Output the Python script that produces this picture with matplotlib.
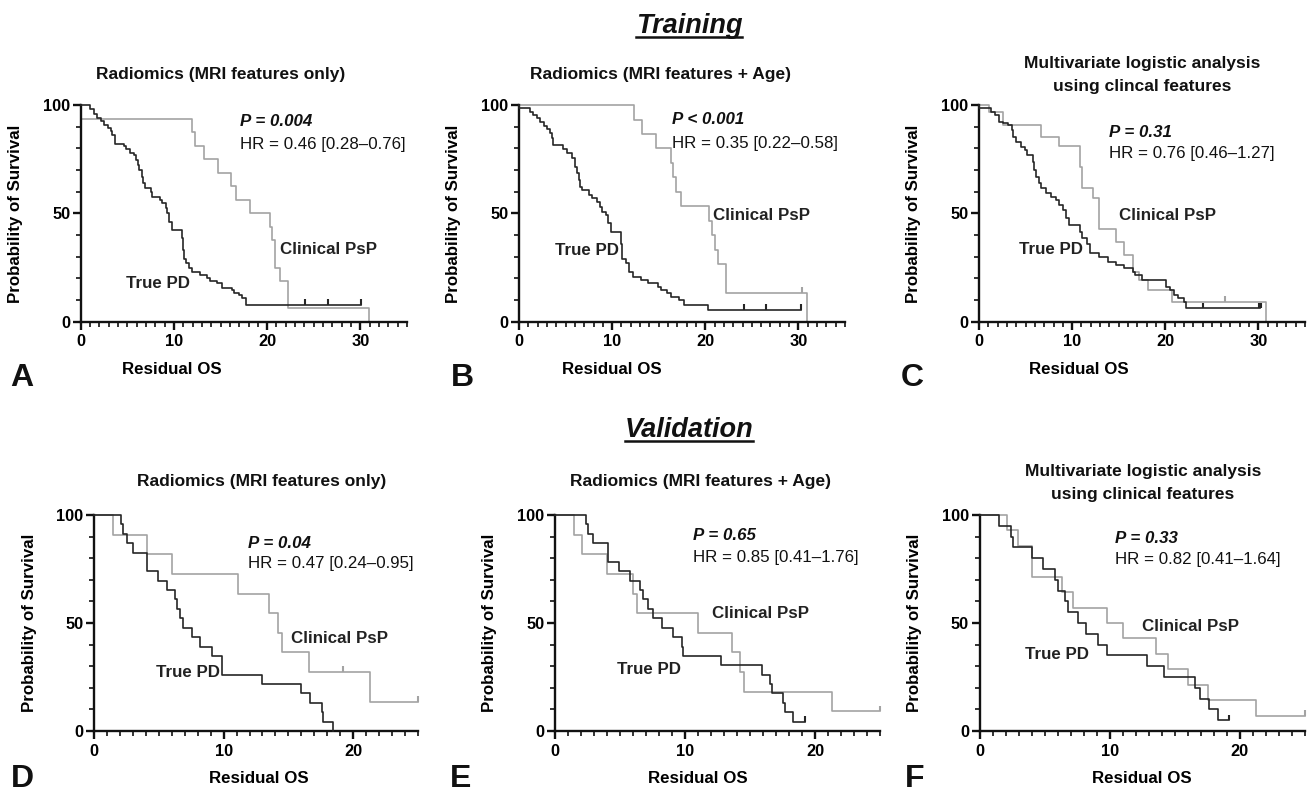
import matplotlib
matplotlib.use("Agg")
import matplotlib.pyplot as plt
from matplotlib.ticker import MultipleLocator
from matplotlib.lines import Line2D

plt.rcParams['font.family'] = ['Liberation Sans', 'DejaVu Sans']

# ---------------- DATA (Kaplan-Meier steps) ----------------
# Panel A  (Training, Radiomics MRI only)
A_pd_t = [0, 1.0, 1.4, 1.7, 2.2, 2.5, 2.9, 3.2, 3.4, 3.7, 4.6, 4.9, 5.3, 5.7, 5.9, 6.1, 6.3, 6.6, 6.7, 6.9,
          7.5, 7.7, 8.5, 8.7, 9.1, 9.3, 9.5, 9.8, 10.9, 11.0, 11.1, 11.3, 11.6, 11.9, 12.8, 13.5, 13.9, 14.6,
          15.2, 16.2, 16.4, 17.0, 17.3, 17.7, 30.1]
A_pd_s = [100, 98, 96, 94, 92.5, 91, 89.5, 88, 86, 82, 81, 79.5, 78, 77, 74.5, 72.5, 70, 67, 64, 61.5,
          60, 57.7, 56, 54.6, 52.3, 50, 46, 42.3, 38.5, 33, 29, 27, 24.6, 23, 21.5, 20, 19, 17.7,
          15.4, 14.6, 13.4, 12.3, 10.8, 7.7, 7.7]
A_psp_t = [0, 0, 11.9, 12.3, 13.2, 14.7, 16.1, 16.7, 18.2, 20.3, 20.5, 20.8, 21.4, 22.2, 30.9]
A_psp_s = [100, 93.75, 87.5, 81.25, 75, 68.75, 62.5, 56.25, 50, 43.75, 37.5, 25, 18.75, 6.25, 0]
A_pd_cens_t = [24.1, 26.5, 30.1]
A_pd_cens_s = [7.7, 7.7, 7.7]
A_psp_cens_t = []
A_psp_cens_s = []

# Panel B  (Training, Radiomics MRI + Age)
B_pd_t = [0, 0, 1.2, 1.5, 1.9, 2.3, 2.7, 3.0, 3.3, 3.5, 3.7, 4.7, 5.1, 5.7, 6.0, 6.2, 6.4, 6.6, 6.8, 7.5,
          7.8, 8.4, 8.7, 8.9, 9.3, 9.6, 9.9, 10.9, 11.1, 11.5, 11.8, 12.2, 13.1, 13.8, 14.9, 15.2, 15.9,
          16.3, 17.2, 17.7, 20.3, 30.3]
B_pd_s = [100, 98.5, 97, 95.4, 93.8, 92.3, 90.3, 88.8, 87.2, 84.6, 81.5, 79.5, 77.7, 75.4, 71.5, 68.5,
          65.4, 62.3, 60.8, 58.5, 56.9, 55.4, 53, 50.8, 49.2, 45.4, 41.5, 36, 29, 26.9, 23, 20.8, 19.2,
          17.7, 16.2, 14.6, 13.1, 11.5, 10, 7.7, 5.4, 5.4]
B_psp_t = [0, 12.3, 13.2, 14.7, 16.3, 16.5, 16.9, 17.4, 20.4, 20.7, 21.0, 21.4, 22.2, 30.9]
B_psp_s = [100, 93.3, 86.7, 80, 73.3, 66.7, 60, 53.3, 46.7, 40, 33.3, 26.7, 13.3, 0]
B_pd_cens_t = [24.2, 26.5, 30.3]
B_pd_cens_s = [5.4, 5.4, 5.4]
B_psp_cens_t = [30.4]
B_psp_cens_s = [13.3]

# Panel C  (Training, clinical multivariate)
C_pd_t = [0, 0, 1.3, 1.7, 2.2, 2.6, 3.1, 3.5, 3.6, 4.0, 4.5, 4.9, 5.2, 5.8, 5.9, 6.1, 6.4, 6.7, 7.2, 7.7,
          8.3, 8.6, 9.0, 9.3, 9.7, 10.8, 11.1, 11.6, 11.9, 12.9, 13.8, 14.7, 15.6, 16.5, 16.8, 17.5, 20.1,
          20.5, 20.9, 21.4, 22.0, 22.2, 30.2]
C_pd_s = [100, 98.5, 97, 95.4, 92.3, 91.5, 90.8, 88.5, 85.4, 83, 80.8, 79.2, 77, 73.8, 70, 67, 63.8,
          61.5, 59.2, 57.7, 56.2, 53.8, 51.5, 47.7, 44.6, 41.5, 38.5, 36, 31.5, 30, 27.7, 26.2, 24.6, 23,
          21.5, 19.2, 16.2, 14.6, 12.3, 10.8, 9.2, 6.2, 6.2]
C_psp_t = [0, 1.1, 2.6, 6.7, 8.6, 10.8, 11.1, 12.2, 12.9, 14.7, 15.6, 16.5, 17.2, 18.1, 20.7, 30.8]
C_psp_s = [100, 96.9, 90.6, 85.4, 81.0, 71.5, 61.5, 56.9, 43.0, 36.9, 30.8, 23.0, 19.2, 14.6, 9.2, 0]
C_pd_cens_t = [24.1, 30.1, 30.3]
C_pd_cens_s = [6.2, 6.2, 6.2]
C_psp_cens_t = [26.4]
C_psp_cens_s = [9.2]

# Panel D  (Validation, Radiomics MRI only)
D_pd_t = [0, 2.06, 2.26, 2.52, 2.98, 4.06, 4.96, 5.6, 6.25, 6.38, 6.63, 6.89, 7.53, 8.17, 9.07, 9.85,
          12.93, 16.0, 16.7, 17.56, 17.69, 18.46]
D_pd_s = [100, 95.65, 91.3, 86.96, 82.6, 73.9, 69.6, 65.2, 60.9, 56.5, 52.2, 47.8, 43.5, 39.1, 34.8,
          26.1, 21.7, 17.4, 13.0, 8.7, 4.35, 0]
D_psp_t = [0, 1.5, 4.06, 6.04, 11.08, 13.5, 14.2, 14.5, 16.6, 21.3, 25.0]
D_psp_s = [100, 90.9, 81.8, 72.7, 63.6, 54.5, 45.5, 36.4, 27.3, 13.6, 13.6]
D_pd_cens_t = []
D_pd_cens_s = []
D_psp_cens_t = [19.2, 25.0]
D_psp_cens_s = [27.3, 13.6]

# Panel E  (Validation, Radiomics MRI + Age)
E_pd_t = [0, 2.38, 2.56, 2.95, 4.05, 4.95, 5.77, 6.54, 6.79, 7.18, 7.56, 8.2, 9.05, 9.74, 9.87, 12.8,
          15.9, 16.5, 16.7, 17.56, 17.7, 18.3, 19.2]
E_pd_s = [100, 95.65, 91.3, 86.96, 78.3, 73.9, 69.6, 65.2, 60.9, 56.5, 52.2, 47.8, 43.5, 39.1, 34.8,
          30.4, 26.1, 21.7, 17.4, 13.0, 8.7, 4.35, 4.35]
E_psp_t = [0, 1.49, 2.05, 4.03, 6.0, 6.3, 11.0, 13.6, 14.2, 14.5, 21.3, 25.0]
E_psp_s = [100, 90.9, 81.8, 72.7, 63.6, 54.5, 45.5, 36.4, 27.3, 18.2, 9.1, 9.1]
E_pd_cens_t = [19.2]
E_pd_cens_s = [4.35]
E_psp_cens_t = [25.0]
E_psp_cens_s = [9.1]

# Panel F  (Validation, clinical multivariate)
F_pd_t = [0, 1.53, 2.43, 2.6, 4.07, 4.9, 5.8, 6.06, 6.57, 6.8, 7.6, 8.2, 9.1, 9.77, 12.84, 14.2,
          16.55, 16.9, 17.65, 18.3, 19.2]
F_pd_s = [100, 95, 90, 85, 80, 75, 70, 65, 60, 55, 50, 45, 40, 35, 30, 25, 20, 15, 10, 5, 5]
F_psp_t = [0, 2.1, 2.94, 4.07, 6.3, 7.16, 9.77, 11.05, 13.55, 14.5, 16.0, 17.57, 21.2, 25.0]
F_psp_s = [100, 92.9, 85.7, 71.4, 64.3, 57.1, 50, 42.9, 35.7, 28.6, 21.4, 14.3, 7.1, 7.1]
F_pd_cens_t = [19.2]
F_pd_cens_s = [5]
F_psp_cens_t = [25.0]
F_psp_cens_s = [7.1]

p_texts = ["P = 0.004", "P < 0.001", "P = 0.31", "P = 0.04", "P = 0.65", "P = 0.33"]
hr_texts = ["HR = 0.46 [0.28\u20130.76]", "HR = 0.35 [0.22\u20130.58]", "HR = 0.76 [0.46\u20131.27]",
            "HR = 0.47 [0.24\u20130.95]", "HR = 0.85 [0.41\u20131.76]", "HR = 0.82 [0.41\u20131.64]"]
titles = [["Radiomics (MRI features only)"], ["Radiomics (MRI features + Age)"],
          ["Multivariate logistic analysis", "using clincal features"],
          ["Radiomics (MRI features only)"], ["Radiomics (MRI features + Age)"],
          ["Multivariate logistic analysis", "using clinical features"]]
letters = ["A", "B", "C", "D", "E", "F"]
group_labels = ["True PD", "Clinical PsP"]
section_titles = ["Training", "Validation"]

# ---------------- LAYOUT ----------------
W, H = 1312, 792
fig = plt.figure(figsize=(W / 100, H / 100), dpi=100)
PD_COL = "#262626"
PSP_COL = "#a3a3a3"

def rect(x0, x1, ytop, ybot):
    return [x0 / W, 1 - ybot / H, (x1 - x0) / W, (ybot - ytop) / H]

panels = [
    dict(r=rect(80.7, 407, 105, 321.7), xmax=35, pd=(A_pd_t, A_pd_s), psp=(A_psp_t, A_psp_s),
         pdc=(A_pd_cens_t, A_pd_cens_s), pspc=(A_psp_cens_t, A_psp_cens_s),
         ptxt=(17.1, 92.6, 81.6), lab_pd=(4.86, 17.6), lab_psp=(21.4, 33.1), xl=0.28,
         tx=221, tb=[79], lx=22, ly=386),
    dict(r=rect(519, 845, 105, 321.7), xmax=35, pd=(B_pd_t, B_pd_s), psp=(B_psp_t, B_psp_s),
         pdc=(B_pd_cens_t, B_pd_cens_s), pspc=(B_psp_cens_t, B_psp_cens_s),
         ptxt=(16.45, 93.5, 82.3), lab_pd=(3.9, 33), lab_psp=(20.8, 49.2), xl=0.285,
         tx=660, tb=[79], lx=462, ly=386),
    dict(r=rect(979, 1305, 105, 321.7), xmax=35, pd=(C_pd_t, C_pd_s), psp=(C_psp_t, C_psp_s),
         pdc=(C_pd_cens_t, C_pd_cens_s), pspc=(C_psp_cens_t, C_psp_cens_s),
         ptxt=(14.0, 87.2, 77.7), lab_pd=(4.3, 33.4), lab_psp=(15.0, 49.2), xl=0.307,
         tx=1142, tb=[68, 91], lx=912, ly=386),
    dict(r=rect(94, 418, 515, 731), xmax=25, pd=(D_pd_t, D_pd_s), psp=(D_psp_t, D_psp_s),
         pdc=(D_pd_cens_t, D_pd_cens_s), pspc=(D_psp_cens_t, D_psp_cens_s),
         ptxt=(11.9, 86.9, 77.6), lab_pd=(4.76, 27), lab_psp=(15.2, 42.9), xl=0.51,
         tx=262, tb=[486], lx=22, ly=787),
    dict(r=rect(555, 880, 515, 731), xmax=25, pd=(E_pd_t, E_pd_s), psp=(E_psp_t, E_psp_s),
         pdc=(E_pd_cens_t, E_pd_cens_s), pspc=(E_psp_cens_t, E_psp_cens_s),
         ptxt=(10.6, 90.7, 80.4), lab_pd=(4.74, 28.6), lab_psp=(12.1, 54.5), xl=0.44,
         tx=700, tb=[486], lx=461, ly=787),
    dict(r=rect(979.5, 1305, 515, 731), xmax=25, pd=(F_pd_t, F_pd_s), psp=(F_psp_t, F_psp_s),
         pdc=(F_pd_cens_t, F_pd_cens_s), pspc=(F_psp_cens_t, F_psp_cens_s),
         ptxt=(10.4, 89.2, 79.5), lab_pd=(3.5, 35.2), lab_psp=(12.5, 48.3), xl=0.5,
         tx=1143, tb=[476, 499], lx=915, ly=787),
]

FS = 12.2
for i, p in enumerate(panels):
    ax = fig.add_axes(p["r"])
    ax.step(p["psp"][0], p["psp"][1], where="post", color=PSP_COL, lw=1.2, clip_on=False, zorder=2)
    ax.step(p["pd"][0], p["pd"][1], where="post", color=PD_COL, lw=1.2, clip_on=False, zorder=3)
    if p["pdc"][0]:
        ax.vlines(p["pdc"][0], p["pdc"][1], [v + 2.6 for v in p["pdc"][1]], color=PD_COL, lw=1.5,
                  clip_on=False, zorder=3)
    if p["pspc"][0]:
        ax.vlines(p["pspc"][0], p["pspc"][1], [v + 2.6 for v in p["pspc"][1]], color=PSP_COL, lw=1.5,
                  clip_on=False, zorder=2)
    ax.set_xlim(0, p["xmax"])
    ax.set_ylim(0, 100)
    for s in ["top", "right"]:
        ax.spines[s].set_visible(False)
    for s in ["left", "bottom"]:
        ax.spines[s].set_linewidth(1.7)
        ax.spines[s].set_color("#111111")
    ax.xaxis.set_major_locator(MultipleLocator(10))
    ax.xaxis.set_minor_locator(MultipleLocator(1))
    ax.yaxis.set_major_locator(MultipleLocator(50))
    ax.yaxis.set_minor_locator(MultipleLocator(10))
    ax.tick_params(which="major", direction="out", length=6, width=1.7, color="#111111",
                   labelsize=11.8, pad=3)
    ax.tick_params(which="minor", direction="out", length=3.8, width=1.2, color="#111111")
    ax.tick_params(axis="y", which="major", pad=1.5)
    for lab in ax.get_xticklabels() + ax.get_yticklabels():
        lab.set_fontweight("bold")
    ax.set_ylabel("Probability of Survival", fontsize=FS, fontweight="bold")
    ax.yaxis.set_label_coords(-0.177, 0.5)
    ax.set_xlabel("Residual OS", fontsize=FS, fontweight="bold")
    ax.xaxis.set_label_coords(p["xl"], -0.185)

    px, py1, py2 = p["ptxt"]
    ax.text(px, py1, p_texts[i], fontsize=FS, fontweight="bold", style="italic", va="center",
            ha="left", color="#111111")
    ax.text(px, py2, hr_texts[i], fontsize=FS, va="center", ha="left", color="#111111")
    ax.text(p["lab_pd"][0], p["lab_pd"][1], group_labels[0], fontsize=FS, fontweight="bold",
            va="center", ha="left", color="#222222")
    ax.text(p["lab_psp"][0], p["lab_psp"][1], group_labels[1], fontsize=FS, fontweight="bold",
            va="center", ha="left", color="#222222")

    for line, yb in zip(titles[i], p["tb"]):
        fig.text(p["tx"] / W, 1 - yb / H, line, fontsize=12.5, fontweight="bold", ha="center",
                 va="baseline", color="#111111")
    fig.text(p["lx"] / W, 1 - p["ly"] / H, letters[i], fontsize=23, fontweight="bold", ha="center",
             va="baseline", color="#111111")

# Section headers (bold italic underlined)
for txt, yb in zip(section_titles, [33, 437]):
    t = fig.text(689 / W, 1 - yb / H, txt, fontsize=19.5, fontweight="bold", style="italic",
                 ha="center", va="baseline", color="#111111")
    fig.canvas.draw()
    bb = t.get_window_extent()
    yline = (H - yb - 4) / H
    fig.add_artist(Line2D([bb.x0 / W, bb.x1 / W], [yline, yline], color="#111111", lw=1.8))

fig.savefig("out.png", dpi=100)
